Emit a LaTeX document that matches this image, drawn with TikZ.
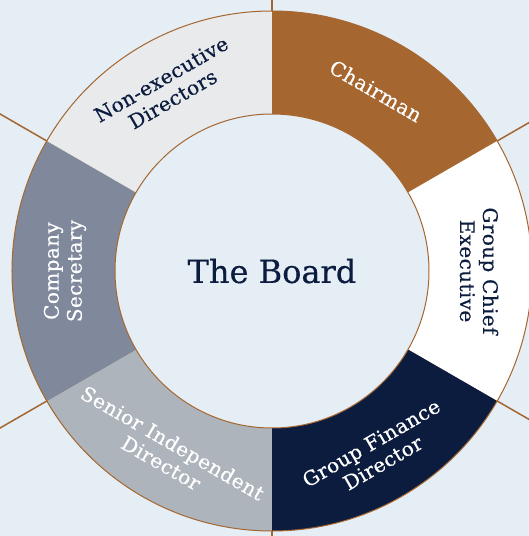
\documentclass[tikz,border=0pt]{standalone}
\usepackage{fontspec}
\setmainfont{DejaVu Serif}
\definecolor{boardbg}{HTML}{E5EDF5}
\definecolor{boardbrown}{HTML}{A5662F}
\definecolor{boardnavy}{HTML}{0B1C3E}
\definecolor{boardslate}{HTML}{7F899B}
\definecolor{boardgrey}{HTML}{ADB4BC}
\definecolor{boardlight}{HTML}{E8EAEC}
\tikzset{
  seglabel/.style={align=center, inner sep=0pt,
    font=\fontsize{20}{23}\selectfont\addfontfeatures{LetterSpace=2,FakeBold=0.4}},
  spoke/.style={draw=boardbrown, line width=1.5pt},
}
\newcommand{\ringseg}[3]{% colour, start angle, end angle
  \fill[#1] (#2:157pt) arc[start angle=#2, end angle=#3, radius=157pt]
    -- (#3:260pt) arc[start angle=#3, end angle=#2, radius=260pt] -- cycle;}

\begin{document}
\begin{tikzpicture}
  \useasboundingbox[fill=boardbg] (-272pt,-265pt) rectangle (257pt,271pt);
  \clip (-272pt,-265pt) rectangle (257pt,271pt);

  % spokes behind the ring
  \draw[spoke] (0,0) -- (90:400pt);
  \draw[spoke] (0,0) -- (30:400pt);
  \draw[spoke] (0,0) -- (-30:400pt);
  \draw[spoke] (0,0) -- (-90:400pt);
  \draw[spoke] (0,0) -- (-150:400pt);
  \draw[spoke] (0,0) -- (150:400pt);

  % ring
  \ringseg{boardbrown}{30}{90}
  \ringseg{white}{-30}{30}
  \ringseg{boardnavy}{-90}{-30}
  \ringseg{boardgrey}{-150}{-90}
  \ringseg{boardslate}{150}{210}
  \ringseg{boardlight}{90}{150}
  \draw[boardbrown, line width=1pt] (0,0) circle[radius=260pt];
  \draw[boardbrown, line width=1pt, fill=boardbg] (0,0) circle[radius=157pt];

  \node[font=\fontsize{32}{36}\selectfont\addfontfeatures{FakeBold=0.4}, text=boardnavy] (board) at (0,0) {The Board};

  \node[seglabel, text=white, rotate=-30] (chairman) at (60:208pt) {Chairman};
  \node[seglabel, text=boardnavy, rotate=-90] (gce) at (0:207pt) {Group Chief\\Executive};
  \node[seglabel, text=white, rotate=30] (gfd) at (-60:210pt) {Group Finance\\Director};
  \node[seglabel, text=white, rotate=-30] (sid) at (-120:210pt) {Senior Independent\\Director};
  \node[seglabel, text=white, rotate=90] (cosec) at (180:207pt) {Company\\Secretary};
  \node[seglabel, text=boardnavy, rotate=30] (ned) at (120:210pt) {Non-executive\\Directors};
\end{tikzpicture}
\end{document}
